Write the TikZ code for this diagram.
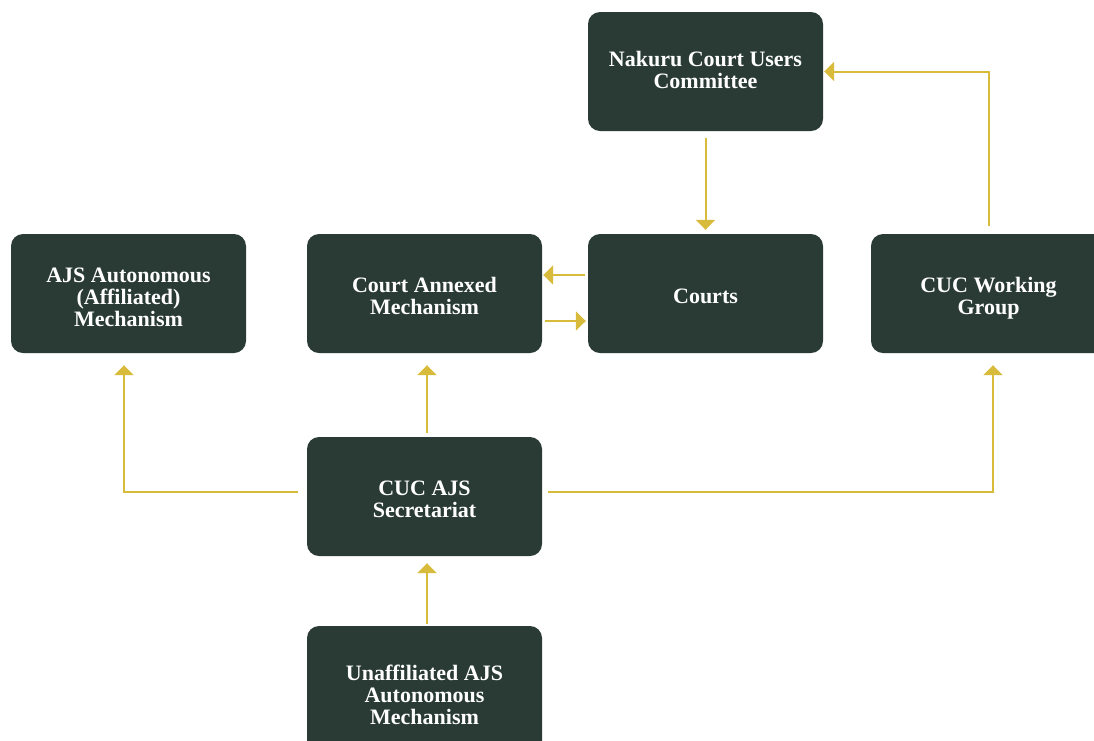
\documentclass[tikz,border=0pt]{standalone}
\usepackage{fontspec}
\setmainfont{Liberation Serif}
\usetikzlibrary{arrows.meta}
\definecolor{boxgreen}{HTML}{2A3B35}
\definecolor{gold}{HTML}{D9BB3B}
\begin{document}
\begin{tikzpicture}[x=1pt,y=-1pt,
 box/.style={fill=boxgreen, rounded corners=12pt, minimum width=235pt, minimum height=119pt, inner sep=0pt},
 lbl/.style={text=white, font=\bfseries\fontsize{22}{22}\selectfont, align=center, inner sep=0pt},
 link/.style={draw=gold, line width=2pt, -{Triangle[length=10pt,width=19pt]}}]
\useasboundingbox (0,0) rectangle (1094,740);
\clip (0,0) rectangle (1094,740);
\node[box, label={[lbl, yshift=2pt]center:{Nakuru Court Users\\Committee}}] (nak) at (705.5,71.5) {};
\node[box, label={[lbl, yshift=-4pt]center:{AJS Autonomous\\(Affiliated)\\Mechanism}}] (ajs) at (128.5,293.5) {};
\node[box, label={[lbl, yshift=-2pt]center:{Court Annexed\\Mechanism}}] (ann) at (424.5,293.5) {};
\node[box, label={[lbl, yshift=-3pt]center:{Courts}}] (crt) at (705.5,293.5) {};
\node[box, label={[lbl, yshift=-4.5pt]center:{CUC Working\\Group}}] (wg) at (988.5,293.5) {};
\node[box, label={[lbl, yshift=-3pt]center:{CUC AJS\\Secretariat}}] (sec) at (424.5,496.5) {};
\node[box, minimum height=136pt, label={[lbl, yshift=-1pt]center:{Unaffiliated AJS\\Autonomous\\Mechanism}}] (una) at (424.5,694) {};
\draw[link, shorten <=7pt, shorten >=4pt] (nak.south) -- (crt.north);
\draw[link, shorten <=3pt, shorten >=1pt] ([yshift=18.5pt]crt.west) -- ([yshift=18.5pt]ann.east);
\draw[link, shorten <=3pt, shorten >=2pt] ([yshift=-27.5pt]ann.east) -- ([yshift=-27.5pt]crt.west);
\draw[link, shorten <=8pt, shorten >=1pt] (wg.north) |- (nak.east);
\draw[link, shorten <=9pt, shorten >=12pt] ([yshift=4.5pt]sec.west) -| ([xshift=-4.5pt]ajs.south);
\draw[link, shorten <=4pt, shorten >=12pt] ([xshift=2.5pt]sec.north) -- ([xshift=2.5pt]ann.south);
\draw[link, shorten <=6pt, shorten >=12pt] ([yshift=4.5pt]sec.east) -| ([xshift=4.5pt]wg.south);
\draw[link, shorten <=2pt, shorten >=7pt] ([xshift=2.5pt]una.north) -- ([xshift=2.5pt]sec.south);
\end{tikzpicture}
\end{document}
